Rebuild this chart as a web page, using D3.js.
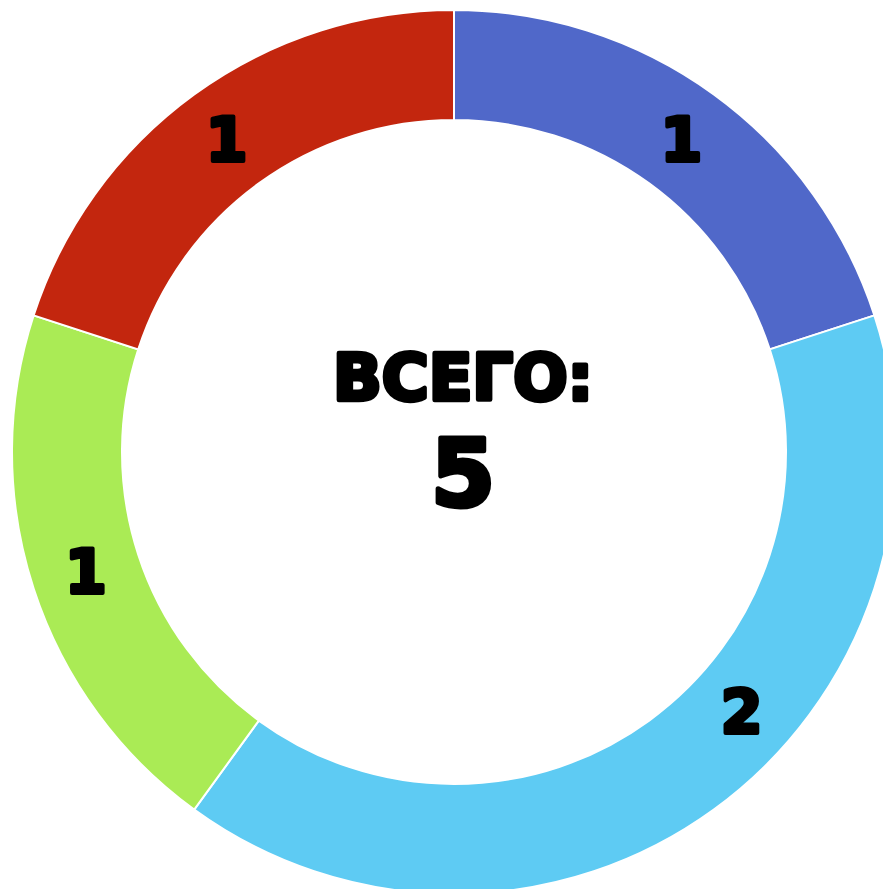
<!DOCTYPE html>
<html><head><meta charset="utf-8">
<script src="https://cdn.jsdelivr.net/npm/d3@7"></script>
<style>html,body{margin:0;padding:0;background:#fff;overflow:hidden}</style>
</head><body>
<svg id="chart" width="883" height="889"></svg>
<script>
const categories = ["A", "B", "C", "D"];
const values = [1, 2, 1, 1];
const colors = ["#5068C9", "#5ECBF3", "#AAEB55", "#C3260E"];
const totalLabel = "ВСЕГО:";

const svg = d3.select("#chart");
const cx = 454, cy = 452, rOuter = 442, rInner = 332;
const g = svg.append("g").attr("transform", `translate(${cx},${cy})`);

const pie = d3.pie().sort(null).value(d => d)(values);
const arc = d3.arc().innerRadius(rInner).outerRadius(rOuter);
const rLabel = (rInner + rOuter) / 2;
// label sits at slice midpoint, but never further than 60deg past the slice start
function labelPos(d) {
  const a = d.startAngle + Math.min((d.endAngle - d.startAngle) / 2, Math.PI / 3);
  return [Math.sin(a) * rLabel, -Math.cos(a) * rLabel];
}

g.selectAll("path.slice").data(pie).join("path")
  .attr("class", "slice")
  .attr("d", arc)
  .attr("fill", (d, i) => colors[i])
  .attr("stroke", "#fff")
  .attr("stroke-width", 2);

const font = "'DejaVu Sans', sans-serif";
g.selectAll("text.lbl").data(pie).join("text")
  .attr("class", "lbl")
  .attr("transform", d => `translate(${labelPos(d)})`)
  .attr("text-anchor", "middle")
  .attr("dy", "0.36em")
  .attr("font-family", font)
  .attr("font-weight", "bold")
  .attr("font-size", 60)
  .attr("fill", "#000")
  .attr("stroke", "#000")
  .attr("stroke-width", 4)
  .attr("stroke-linejoin", "round")
  .text(d => d.data);

const total = d3.sum(values);
g.append("text")
  .attr("x", 9).attr("y", 400 - cy)
  .attr("text-anchor", "middle")
  .attr("font-family", font).attr("font-weight", "bold")
  .attr("font-size", 64)
  .attr("fill", "#000").attr("stroke", "#000").attr("stroke-width", 4.5).attr("stroke-linejoin", "round")
  .text(totalLabel);
g.append("text")
  .attr("x", 9).attr("y", 506 - cy)
  .attr("text-anchor", "middle")
  .attr("font-family", font).attr("font-weight", "bold")
  .attr("font-size", 92)
  .attr("fill", "#000").attr("stroke", "#000").attr("stroke-width", 5).attr("stroke-linejoin", "round")
  .text(total);
</script>
</body></html>
